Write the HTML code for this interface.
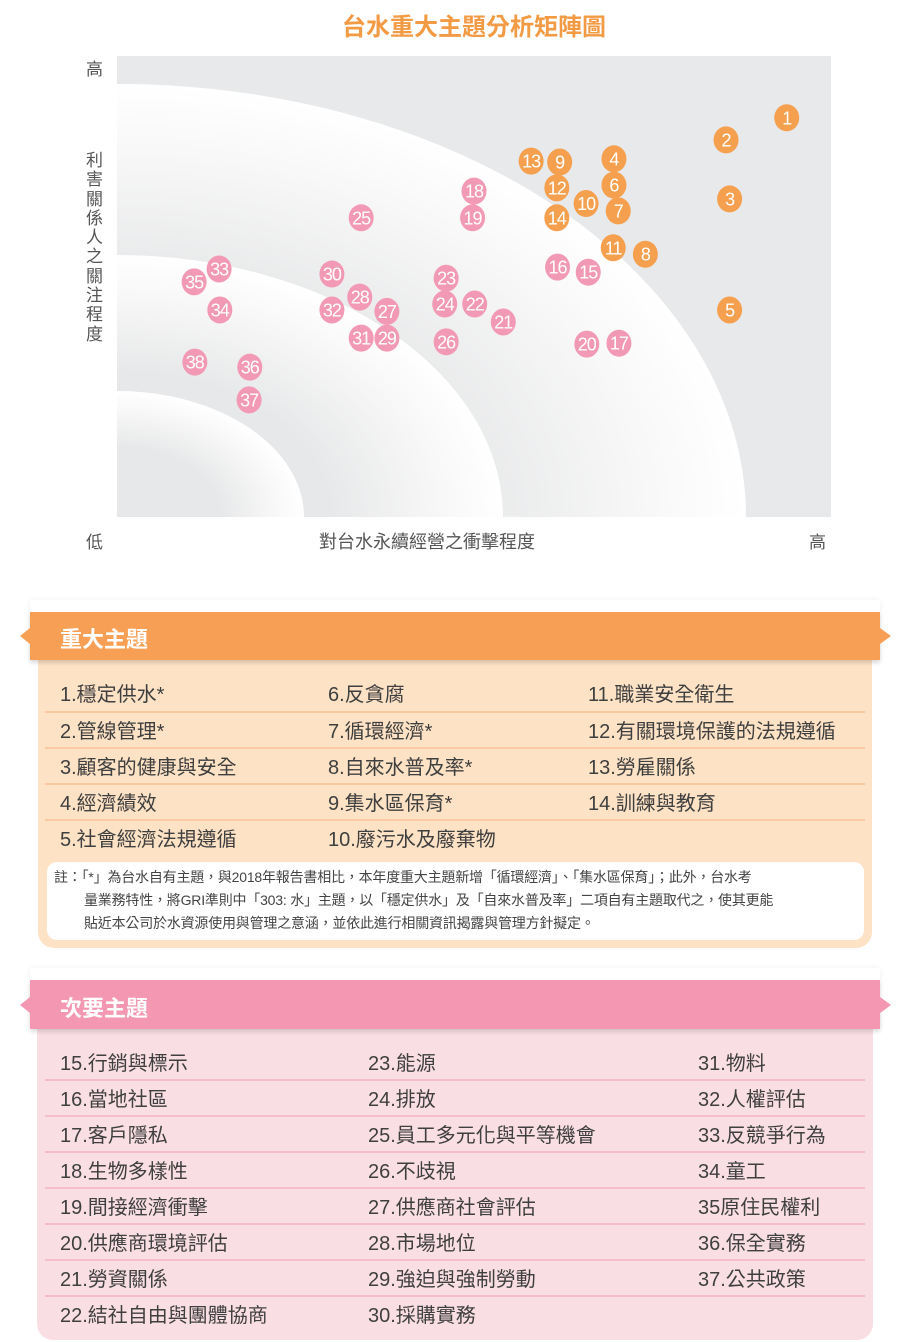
<!DOCTYPE html>
<html><head><meta charset="utf-8">
<style>
body{margin:0;width:911px;height:1342px;background:#fff;position:relative;overflow:hidden;font-family:"Liberation Sans","Noto Sans CJK TC",sans-serif;color:#444}
.abs{position:absolute}
.t{position:absolute;font-size:20px;line-height:24px;white-space:nowrap;color:#3f3f3f}
.sep{position:absolute;height:2px}
</style></head><body>
<div class="abs" style="left:0;width:948px;top:7px;text-align:center;font-size:24px;font-weight:bold;color:#f39a45">台水重大主題分析矩陣圖</div>
<div class="abs" style="left:86px;top:55px;font-size:17px;color:#555">高</div>
<div class="abs" style="left:86px;top:151px;width:18px;font-size:17px;line-height:19.3px;color:#555">利害關係人之關注程度</div>
<div class="abs" style="left:86px;top:528px;font-size:17px;color:#555">低</div>
<div class="abs" style="left:319px;top:528px;font-size:18px;color:#555">對台水永續經營之衝擊程度</div>
<div class="abs" style="left:809px;top:528px;font-size:17px;color:#555">高</div>

<svg class="abs" style="left:0;top:0" width="911" height="560" id="chart">
<defs>
<radialGradient id="g1" cx="0" cy="1" r="1" gradientUnits="objectBoundingBox">
<stop offset="0.55" stop-color="#e7e8e9"/><stop offset="0.85" stop-color="#f8f8f8"/><stop offset="1" stop-color="#ffffff"/>
</radialGradient>
</defs>
<rect x="117" y="56" width="714" height="461" fill="#e8e9ea"/>
<g id="arcs"></g>
<g id="pts"></g>
</svg>

<script>
const ids=[1,2,3,4,5,6,7,8,9,10,11,12,13,14,15,16,17,18,19,20,21,22,23,24,25,26,27,28,29,30,31,32,33,34,35,36,37,38];
const impact=[93.8,85.3,85.8,69.6,85.8,69.6,70.2,74.0,62.0,65.7,69.5,61.6,58.0,61.6,66.0,61.7,70.3,50.0,49.8,65.8,54.1,50.1,46.1,45.9,34.2,46.1,37.8,34.0,37.8,30.1,34.2,30.1,14.3,14.4,10.8,18.6,18.5,10.9];
const concern=[86.6,81.8,69.0,77.7,44.9,72.0,66.4,57.0,77.0,68.0,58.4,71.4,77.2,64.9,53.1,54.2,37.7,70.7,64.9,37.5,42.3,46.2,51.8,46.2,64.9,38.0,44.6,47.7,38.8,52.7,38.8,44.9,53.8,44.9,51.0,32.5,25.4,33.6];
const X0=117,X1=831,Y0=517,Y1=56;
const sx=v=>X0+v/100*(X1-X0), sy=v=>Y0-v/100*(Y0-Y1);
const NS="http://www.w3.org/2000/svg";
const arcs=document.getElementById('arcs');
[[629,433],[386,262],[187,126]].forEach(function(r){
  const e=document.createElementNS(NS,'path');
  e.setAttribute('d',`M${X0} ${Y0-r[1]} A${r[0]} ${r[1]} 0 0 1 ${X0+r[0]} ${Y0} L${X0} ${Y0} Z`);
  e.setAttribute('fill','url(#g1)');
  
  
  arcs.appendChild(e);
});
const pts=document.getElementById('pts');
ids.forEach(function(id,i){
  const g=document.createElementNS(NS,'g');
  
  
  const c=document.createElementNS(NS,'ellipse');
  c.setAttribute('cx',sx(impact[i]));c.setAttribute('cy',sy(concern[i]));
  c.setAttribute('rx',12.5);c.setAttribute('ry',13.5);
  c.setAttribute('fill',id<=14?'#f5a04f':'#f29ab5');
  g.appendChild(c);
  const t=document.createElementNS(NS,'text');
  t.setAttribute('x',sx(impact[i]));t.setAttribute('y',sy(concern[i])+6.5);
  t.setAttribute('text-anchor','middle');t.setAttribute('fill','#fff');
  t.setAttribute('font-size','18');t.setAttribute('font-family','Liberation Sans Narrow, Liberation Sans, sans-serif');
  t.setAttribute('letter-spacing','-1');
  t.textContent=id;
  g.appendChild(t);
  pts.appendChild(g);
});
</script>

<div class="abs" style="left:38px;top:640px;width:834px;height:308px;background:#fde2c5;border-radius:0 0 16px 16px"></div>
<div class="abs" style="left:30px;top:600px;width:850px;height:60px;box-shadow:0 0 6px rgba(0,0,0,0.06)"></div>
<div class="abs" style="left:30px;top:612px;width:850px;height:48px;background:#f7a055;box-shadow:0 3px 4px rgba(0,0,0,0.12)">
<span style="position:absolute;left:30px;top:10px;font-size:22px;color:#fff;font-weight:bold">重大主題</span></div>
<div class="abs" style="left:20px;top:628px;width:0;height:0;border-top:8px solid transparent;border-bottom:8px solid transparent;border-right:10px solid #f7a055"></div>
<div class="abs" style="left:880px;top:628px;width:0;height:0;border-top:8px solid transparent;border-bottom:8px solid transparent;border-left:11px solid #f7a055"></div>
<div class="sep" style="left:45px;top:711px;width:820px;background:#f8c9a0"></div>
<div class="sep" style="left:45px;top:747px;width:820px;background:#f8c9a0"></div>
<div class="sep" style="left:45px;top:783px;width:820px;background:#f8c9a0"></div>
<div class="sep" style="left:45px;top:819px;width:820px;background:#f8c9a0"></div>
<div class="t" style="left:60px;top:683px">1.穩定供水*</div>
<div class="t" style="left:60px;top:720px">2.管線管理*</div>
<div class="t" style="left:60px;top:756px">3.顧客的健康與安全</div>
<div class="t" style="left:60px;top:792px">4.經濟績效</div>
<div class="t" style="left:60px;top:828px">5.社會經濟法規遵循</div>
<div class="t" style="left:328px;top:683px">6.反貪腐</div>
<div class="t" style="left:328px;top:720px">7.循環經濟*</div>
<div class="t" style="left:328px;top:756px">8.自來水普及率*</div>
<div class="t" style="left:328px;top:792px">9.集水區保育*</div>
<div class="t" style="left:328px;top:828px">10.廢污水及廢棄物</div>
<div class="t" style="left:588px;top:683px">11.職業安全衛生</div>
<div class="t" style="left:588px;top:720px">12.有關環境保護的法規遵循</div>
<div class="t" style="left:588px;top:756px">13.勞雇關係</div>
<div class="t" style="left:588px;top:792px">14.訓練與教育</div>
<div class="abs" style="left:47px;top:862px;width:817px;height:78px;background:#fff;border-radius:10px;font-size:14px;line-height:23px;color:#444;white-space:nowrap;letter-spacing:-0.2px">
<div style="position:absolute;left:7px;top:4px">註：「*」為台水自有主題，與2018年報告書相比，本年度重大主題新增「循環經濟」、「集水區保育」；此外，台水考</div>
<div style="position:absolute;left:37px;top:27px">量業務特性，將GRI準則中「303: 水」主題，以「穩定供水」及「自來水普及率」二項自有主題取代之，使其更能</div>
<div style="position:absolute;left:37px;top:50px">貼近本公司於水資源使用與管理之意涵，並依此進行相關資訊揭露與管理方針擬定。</div></div>

<div class="abs" style="left:37px;top:1010px;width:836px;height:330px;background:#f9dfe4;border-radius:0 0 16px 16px"></div>
<div class="abs" style="left:30px;top:968px;width:850px;height:60px;box-shadow:0 0 6px rgba(0,0,0,0.06)"></div>
<div class="abs" style="left:30px;top:980px;width:850px;height:49px;background:#f397b2;box-shadow:0 3px 4px rgba(0,0,0,0.12)">
<span style="position:absolute;left:30px;top:11px;font-size:22px;color:#fff;font-weight:bold">次要主題</span></div>
<div class="abs" style="left:20px;top:997px;width:0;height:0;border-top:8px solid transparent;border-bottom:8px solid transparent;border-right:10px solid #f397b2"></div>
<div class="abs" style="left:880px;top:997px;width:0;height:0;border-top:8px solid transparent;border-bottom:8px solid transparent;border-left:11px solid #f397b2"></div>
<div class="sep" style="left:45px;top:1079px;width:820px;background:#f5bccb"></div>
<div class="sep" style="left:45px;top:1115px;width:820px;background:#f5bccb"></div>
<div class="sep" style="left:45px;top:1151px;width:820px;background:#f5bccb"></div>
<div class="sep" style="left:45px;top:1187px;width:820px;background:#f5bccb"></div>
<div class="sep" style="left:45px;top:1223px;width:820px;background:#f5bccb"></div>
<div class="sep" style="left:45px;top:1259px;width:820px;background:#f5bccb"></div>
<div class="sep" style="left:45px;top:1295px;width:820px;background:#f5bccb"></div>
<div class="t" style="left:60px;top:1052px">15.行銷與標示</div>
<div class="t" style="left:60px;top:1088px">16.當地社區</div>
<div class="t" style="left:60px;top:1124px">17.客戶隱私</div>
<div class="t" style="left:60px;top:1160px">18.生物多樣性</div>
<div class="t" style="left:60px;top:1196px">19.間接經濟衝擊</div>
<div class="t" style="left:60px;top:1232px">20.供應商環境評估</div>
<div class="t" style="left:60px;top:1268px">21.勞資關係</div>
<div class="t" style="left:60px;top:1304px">22.結社自由與團體協商</div>
<div class="t" style="left:368px;top:1052px">23.能源</div>
<div class="t" style="left:368px;top:1088px">24.排放</div>
<div class="t" style="left:368px;top:1124px">25.員工多元化與平等機會</div>
<div class="t" style="left:368px;top:1160px">26.不歧視</div>
<div class="t" style="left:368px;top:1196px">27.供應商社會評估</div>
<div class="t" style="left:368px;top:1232px">28.市場地位</div>
<div class="t" style="left:368px;top:1268px">29.強迫與強制勞動</div>
<div class="t" style="left:368px;top:1304px">30.採購實務</div>
<div class="t" style="left:698px;top:1052px">31.物料</div>
<div class="t" style="left:698px;top:1088px">32.人權評估</div>
<div class="t" style="left:698px;top:1124px">33.反競爭行為</div>
<div class="t" style="left:698px;top:1160px">34.童工</div>
<div class="t" style="left:698px;top:1196px">35原住民權利</div>
<div class="t" style="left:698px;top:1232px">36.保全實務</div>
<div class="t" style="left:698px;top:1268px">37.公共政策</div>
</body></html>
